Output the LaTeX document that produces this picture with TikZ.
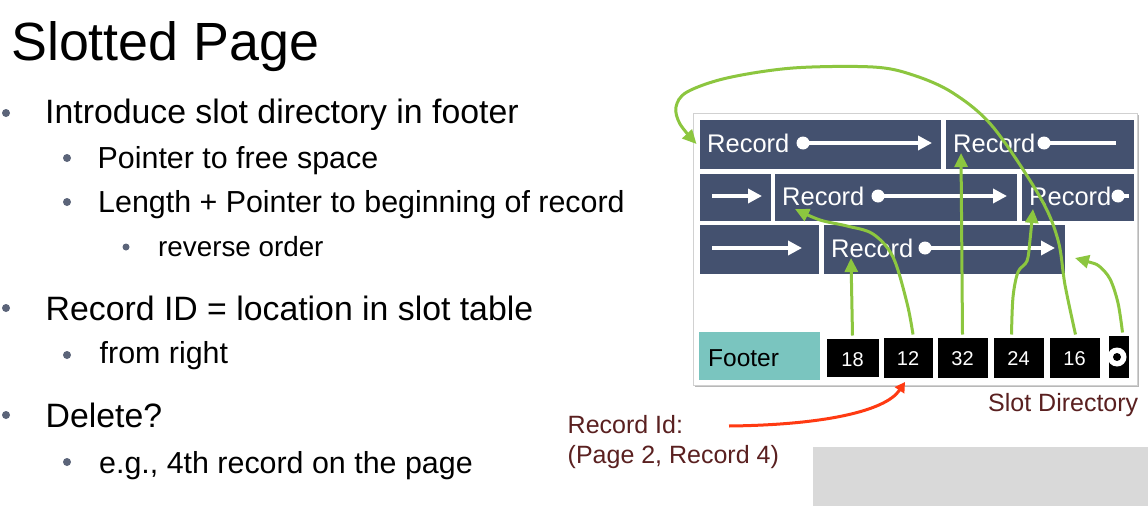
\documentclass[tikz,border=0pt]{standalone}
\usepackage{fontspec}
\setmainfont{Liberation Sans}
\usetikzlibrary{arrows.meta,shadows}
\definecolor{recblue}{HTML}{44516F}
\definecolor{ptrgreen}{HTML}{8CC63F}
\definecolor{footteal}{HTML}{7AC5BF}
\definecolor{ridred}{HTML}{FF3A12}
\definecolor{darkmaroon}{HTML}{5A2020}
\definecolor{bulletgray}{HTML}{5B6479}
\definecolor{panelgray}{HTML}{D9D9D9}
\begin{document}
\begin{tikzpicture}[x=1pt,y=-1pt,
  softshadow/.style={drop shadow={shadow xshift=1.2pt,shadow yshift=-1.6pt,fill=black,opacity=0.28}},
  pageframe/.style={fill=white,draw=black!18,line width=0.8pt,softshadow,inner sep=0pt,anchor=north west},
  recbox/.style={fill=recblue,draw=white,line width=3pt,softshadow,inner sep=0pt,anchor=north west},
  slotbox/.style={fill=black,draw=white,line width=3pt,softshadow,inner sep=0pt,anchor=north west},
  footbox/.style={fill=footteal,inner sep=0pt,anchor=north west},
  rectext/.style={text=white,font=\fontsize{25.5}{29}\selectfont,anchor=base west,inner sep=0pt},
  slottext/.style={text=white,font=\fontsize{20}{23}\selectfont,inner sep=0pt},
  dotnode/.style={circle,fill=white,minimum size=13pt,inner sep=0pt},
  whiteptr/.style={draw=white,line width=3.4pt,-{Triangle[width=14pt,length=14pt]}},
  whiteline/.style={draw=white,line width=3.4pt},
  greenptr/.style={draw=ptrgreen,line width=3pt,-{Triangle[width=13pt,length=14pt]}},
  redptr/.style={draw=ridred,line width=3pt,-{Triangle[width=11pt,length=10pt]}},
  lvlone/.style={anchor=base west,inner sep=0pt,font=\fontsize{33.8}{40}\selectfont},
  lvltwo/.style={anchor=base west,inner sep=0pt,font=\fontsize{30.4}{36}\selectfont},
  lvlthree/.style={anchor=base west,inner sep=0pt,font=\fontsize{27.8}{33}\selectfont},
  bulletdot/.style={circle,fill=bulletgray,minimum size=8pt,inner sep=0pt},
  smallbullet/.style={circle,fill=bulletgray,minimum size=7pt,inner sep=0pt},
  notetext/.style={text=darkmaroon,anchor=base west,inner sep=0pt,font=\fontsize{25}{30}\selectfont}
]
\useasboundingbox (0,0) rectangle (1148,506);
\fill[white] (0,0) rectangle (1148,506);

% ---- left text ----
\node[anchor=base west,inner sep=0pt,font=\fontsize{53.8}{60}\selectfont] (title) at (11,60) {Slotted Page};
\node[bulletdot] (b1) at (6,113) {};
\node[lvlone] (t1) at (45,123) {Introduce slot directory in footer};
\node[bulletdot] (b2) at (67,158) {};
\node[lvltwo] (t2) at (97.5,168) {Pointer to free space};
\node[bulletdot] (b3) at (67,202) {};
\node[lvltwo] (t3) at (98,212) {Length + Pointer to beginning of record};
\node[smallbullet] (b4) at (126,247) {};
\node[lvlthree] (t4) at (158,256) {reverse order};
\node[bulletdot] (b5) at (6,308) {};
\node[lvlone] (t5) at (45.5,320) {Record ID = location in slot table};
\node[bulletdot] (b6) at (67,355) {};
\node[lvltwo] (t6) at (99.5,363) {from right};
\node[bulletdot] (b7) at (6,415) {};
\node[lvlone] (t7) at (45.5,427) {Delete?};
\node[bulletdot] (b8) at (67,462) {};
\node[lvltwo] (t8) at (99,473) {e.g., 4th record on the page};

% ---- grey panel ----
\fill[panelgray] (813,447) rectangle (1148,506);

% ---- page ----
\node[pageframe,minimum width=444pt,minimum height=272pt] (page) at (693,113) {};

% row 1
\node[recbox,minimum width=244pt,minimum height=52pt] (r11) at (696.5,116.5) {};
\node[recbox,minimum width=191pt,minimum height=52pt] (r12) at (942.5,116.5) {};
% row 2
\node[recbox,minimum width=74pt,minimum height=50pt] (r21) at (696.5,170.5) {};
\node[recbox,minimum width=245pt,minimum height=50pt] (r22) at (771.5,170.5) {};
\node[recbox,minimum width=115pt,minimum height=50pt] (r23) at (1018.5,170.5) {};
% row 3
\node[recbox,minimum width=122pt,minimum height=52pt] (r31) at (696.5,221.5) {};
\node[recbox,minimum width=244pt,minimum height=52pt] (r32) at (820.5,221.5) {};

% record labels
\node[rectext] (l11) at (707,152) {Record};
\node[rectext] (l12) at (953,152) {Record};
\node[rectext] (l22) at (782,205) {Record};
\node[rectext] (l23) at (1029,205) {Record};
\node[rectext] (l32) at (831,257) {Record};

% pointers inside records
\coordinate (e11) at (932,143);
\coordinate (e12) at (1116,143);
\coordinate (s21) at (712,196);
\coordinate (e21) at (762,196);
\coordinate (e22) at (1007,196);
\coordinate (e23) at (1129,196);
\coordinate (s31) at (712,248);
\coordinate (e31) at (802,248);
\coordinate (e32) at (1055,248);
\node[dotnode] (d11) at (803,143) {};
\node[dotnode] (d12) at (1044,143) {};
\node[dotnode] (d22) at (878,196) {};
\node[dotnode] (d23) at (1118,196) {};
\node[dotnode] (d32) at (925,248) {};
\draw[whiteptr] (d11.center) -- (e11);
\draw[whiteline] (d12.center) -- (e12);
\draw[whiteptr] (s21) -- (e21);
\draw[whiteptr] (d22.center) -- (e22);
\draw[whiteline] (d23.center) -- (e23);
\draw[whiteptr] (s31) -- (e31);
\draw[whiteptr] (d32.center) -- (e32);

% footer and slots
\node[footbox,minimum width=121pt,minimum height=48pt] (footer) at (699,332) {};
\node[anchor=base west,inner sep=0pt,font=\fontsize{24.5}{28}\selectfont] (footlbl) at (708,366) {Footer};
\node[slotbox,minimum width=55pt,minimum height=41pt] (s18) at (823.5,335.5) {};
\node[slotbox,minimum width=52pt,minimum height=43pt] (s12) at (880.5,334.5) {};
\node[slotbox,minimum width=53pt,minimum height=43pt] (s32) at (934.5,334.5) {};
\node[slotbox,minimum width=53pt,minimum height=43pt] (s24) at (990.5,334.5) {};
\node[slotbox,minimum width=53pt,minimum height=43pt] (s16) at (1046.5,334.5) {};
\node[slotbox,minimum width=23pt,minimum height=45pt] (sfree) at (1105.5,332.5) {};
\node[slottext] at ([yshift=-2pt]s18.center) {18};
\node[slottext] at ([yshift=-1pt]s12.center) {12};
\node[slottext] at ([yshift=-1pt]s32.center) {32};
\node[slottext] at ([yshift=-1pt]s24.center) {24};
\node[slottext] at ([yshift=-1pt]s16.center) {16};
\node[circle,fill=white,minimum size=19pt,inner sep=0pt] (freering) at (1117,357) {};
\node[circle,fill=black,minimum size=8pt,inner sep=0pt] (freehole) at (1117,357) {};

% ---- green slot pointers ----
\coordinate (g18) at (851,258);
\coordinate (g32) at (961,153);
\coordinate (g12) at (795,209);
\coordinate (g24) at (1033,209);
\coordinate (gfree) at (1075,258);
\draw[greenptr] (s18.north) -- (g18);
\draw[greenptr] (s32.north) -- (g32);
\draw[greenptr] plot[smooth,tension=0.55] coordinates {([xshift=5pt]s12.north) (907,303) (893,257) (873,234) (847,226) (820,220) (g12)};
\draw[greenptr] plot[smooth,tension=0.55] coordinates {([xshift=-7pt]s24.north) (1013,297) (1018,272) (1027,261) (1030,240) (g24)};
\draw[greenptr] plot[smooth,tension=0.55] coordinates {([xshift=4pt]sfree.north) (1118,303) (1110,279) (1099,266) (1089,262) (gfree)};
\draw[greenptr] plot[smooth,tension=0.55] coordinates {([xshift=1pt]s16.north) (1065,285) (1058,240) (1040,197) (993,127) (953,93) (913,75) (873,67) (793,68) (727,78) (687,92) (676,107) (680,124) (r11.west)};

% ---- annotations ----
\node[notetext] (slotdir) at (988,411) {Slot Directory};
\node[notetext] (rid1) at (567.5,433) {Record Id:};
\node[notetext] (rid2) at (567.5,463) {(Page 2, Record 4)};
\coordinate (ridstart) at (729,426);
\coordinate (ridtip) at (905,382);
\draw[redptr] (ridstart) .. controls (820,425) and (885,412) .. (ridtip);
\end{tikzpicture}
\end{document}
